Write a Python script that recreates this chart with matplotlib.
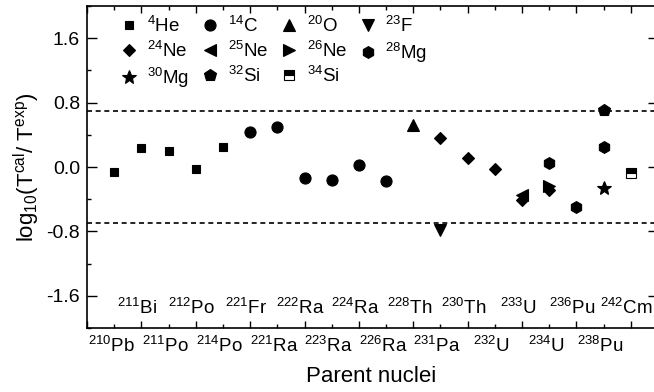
import matplotlib
matplotlib.use("Agg")
import matplotlib.pyplot as plt
from matplotlib.ticker import MultipleLocator, FormatStrFormatter

plt.rcParams['font.family'] = 'Liberation Sans'
plt.rcParams['mathtext.fontset'] = 'custom'
plt.rcParams['mathtext.rm'] = 'Liberation Sans'
plt.rcParams['mathtext.default'] = 'regular'
plt.rcParams['axes.unicode_minus'] = False

# parent nuclei along the x axis (left to right)
nuclei = ['210Pb', '211Bi', '211Po', '212Po', '214Po', '221Fr', '221Ra', '222Ra',
          '223Ra', '224Ra', '226Ra', '228Th', '231Pa', '230Th', '232U', '233U',
          '234U', '236Pu', '238Pu', '242Cm']

# emitted cluster -> (parent nuclei, log10(Tcal/Texp))
he4_parents = ['210Pb', '211Bi', '211Po', '212Po', '214Po']
he4_vals = [-0.06, 0.23, 0.20, -0.02, 0.25]
c14_parents = ['221Fr', '221Ra', '222Ra', '223Ra', '224Ra', '226Ra']
c14_vals = [0.44, 0.50, -0.14, -0.16, 0.03, -0.18]
o20_parents = ['228Th']
o20_vals = [0.52]
f23_parents = ['231Pa']
f23_vals = [-0.78]
ne24_parents = ['231Pa', '230Th', '232U', '233U', '234U']
ne24_vals = [0.36, 0.11, -0.02, -0.41, -0.28]
ne25_parents = ['233U']
ne25_vals = [-0.35]
ne26_parents = ['234U']
ne26_vals = [-0.23]
mg28_parents = ['234U', '236Pu', '238Pu']
mg28_vals = [0.05, -0.50, 0.25]
mg30_parents = ['238Pu']
mg30_vals = [-0.26]
si32_parents = ['238Pu']
si32_vals = [0.71]
si34_parents = ['242Cm']
si34_vals = [-0.08]

limit = 0.7


def sup_label(name):
    i = 0
    while name[i].isdigit():
        i += 1
    return r'$^{%s}$%s' % (name[:i], name[i:])


def xpos(parents):
    return [nuclei.index(p) + 1 for p in parents]


fig = plt.figure(figsize=(6.54, 3.92), dpi=100)
ax = fig.add_axes([87 / 654, 1 - 328 / 392, 571 / 654, 322 / 392])

series = [
    ('4He', he4_parents, he4_vals, dict(marker='s', ms=6)),
    ('14C', c14_parents, c14_vals, dict(marker='o', ms=8)),
    ('20O', o20_parents, o20_vals, dict(marker='^', ms=9)),
    ('23F', f23_parents, f23_vals, dict(marker='v', ms=9)),
    ('24Ne', ne24_parents, ne24_vals, dict(marker='D', ms=6.5)),
    ('25Ne', ne25_parents, ne25_vals, dict(marker='<', ms=9)),
    ('26Ne', ne26_parents, ne26_vals, dict(marker='>', ms=9)),
    ('28Mg', mg28_parents, mg28_vals, dict(marker='h', ms=8.5)),
    ('30Mg', mg30_parents, mg30_vals, dict(marker='*', ms=10)),
    ('32Si', si32_parents, si32_vals, dict(marker='p', ms=9)),
    ('34Si', si34_parents, si34_vals, dict(marker='s', ms=6.5, fillstyle='top',
                                           markerfacecoloralt='white')),
]

handles = {}
for name, parents, vals, style in series:
    h, = ax.plot(xpos(parents), vals, linestyle='none', color='black',
                 markeredgecolor='black', markeredgewidth=0.8,
                 label=sup_label(name), zorder=3, **style)
    handles[name] = h

ax.axhline(limit, color='black', lw=1.2, ls=(0, (3, 2.2)), zorder=2)
ax.axhline(-limit, color='black', lw=1.2, ls=(0, (3, 2.2)), zorder=2)

ax.set_xlim(0, 21)
ax.set_ylim(-2.0, 2.0)
ax.xaxis.set_major_locator(MultipleLocator(2))
ax.xaxis.set_minor_locator(MultipleLocator(1))
ax.yaxis.set_major_locator(MultipleLocator(0.8))
ax.yaxis.set_minor_locator(MultipleLocator(0.4))
ax.yaxis.set_major_formatter(FormatStrFormatter('%.1f'))
ax.set_xticklabels([])
ax.tick_params(which='both', direction='in', top=True, right=True, width=1, labelsize=14)
ax.tick_params(which='major', length=5)
ax.tick_params(which='minor', length=3)
ax.tick_params(axis='y', which='major', length=7, pad=5)
for s in ax.spines.values():
    s.set_linewidth(1.2)

# nucleus labels: odd positions below the axis, even positions inside
for i, n in enumerate(nuclei):
    x = i + 1
    if x % 2 == 1:
        ax.text(x - 0.12, -0.074, sup_label(n), transform=ax.get_xaxis_transform(),
                ha='center', va='baseline', fontsize=13.5)
    else:
        ax.text(x - 0.15, -1.83, sup_label(n), ha='center', va='baseline', fontsize=13.5)

order = ['4He', '24Ne', '30Mg', '14C', '25Ne', '32Si', '20O', '26Ne', '34Si', '23F', '28Mg']
leg = ax.legend([handles[k] for k in order], [sup_label(k) for k in order], ncol=4,
                loc='upper left', bbox_to_anchor=(0.035, 1.01), frameon=False,
                fontsize=13.5, handlelength=1.0, handletextpad=0.45, columnspacing=0.6,
                labelspacing=0.25, borderaxespad=0.3)

ax.set_ylabel(r'log$_{10}$(T$^{cal}$/ T$^{exp}$)', fontsize=16, labelpad=3)
fig.text(371 / 654, 1 - 376 / 392, 'Parent nuclei', ha='center', va='center', fontsize=16)

fig.savefig('out.png', dpi=100)
